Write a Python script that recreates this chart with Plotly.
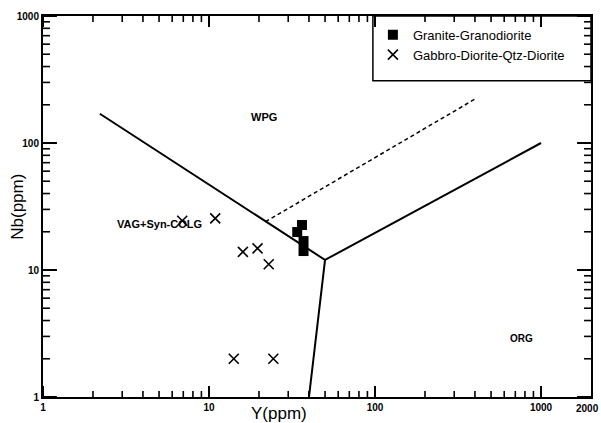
import math
import plotly.graph_objects as go

# Granite-Granodiorite samples
granite_y = [34.0, 36.3, 37.1, 37.1]
granite_nb = [19.9, 22.6, 16.9, 14.1]

# Gabbro-Diorite-Qtz-Diorite samples
gabbro_y = [6.9, 10.9, 16.0, 19.6, 22.9, 14.1, 24.4]
gabbro_nb = [24.4, 25.5, 13.9, 14.8, 11.1, 2.0, 2.0]

# Discrimination boundaries (Pearce et al. 1984)
bnd_y = [2.2, 50, 40, None, 50, 1000]
bnd_nb = [170, 12, 1, None, 12, 100]
dash_y = [21.9, 410]
dash_nb = [24.0, 226]

x_min, x_max = 1, 2000
y_min, y_max = 1, 1000
x_max_label = "2000"

FONT = "Liberation Sans, Arial, sans-serif"
TRANSP = "rgba(0,0,0,0)"

W, H = 601, 423
ML, MR, MT, MB = 43, 8, 16, 26
px_per_dec_x = (W - ML - MR) / math.log10(x_max / x_min)
px_per_dec_y = (H - MT - MB) / math.log10(y_max / y_min)

# tick marks (inside, on all four sides), built from the axis scales
x_major = [10 ** n for n in range(0, 4)]
x_minor = [k * 10 ** n for n in range(0, 4) for k in range(2, 10) if k * 10 ** n < x_max]
y_major = [10 ** n for n in range(0, 4)]
y_minor = [k * 10 ** n for n in range(0, 3) for k in range(2, 10)]


def x_tick_segments(vals, length):
    f = 10 ** (length / px_per_dec_y)
    xs, ys = [], []
    for v in vals:
        xs += [v, v, None, v, v, None]
        ys += [y_min, y_min * f, None, y_max, y_max / f, None]
    return xs, ys


def y_tick_segments(vals, length):
    f = 10 ** (length / px_per_dec_x)
    xs, ys = [], []
    for v in vals:
        xs += [x_min, x_min * f, None, x_max, x_max / f, None]
        ys += [v, v, None, v, v, None]
    return xs, ys


fig = go.Figure()
for (vals, length, width, fn) in [
    (x_major, 11, 2, x_tick_segments), (x_minor, 6, 1.6, x_tick_segments),
    (y_major, 14, 2, y_tick_segments), (y_minor, 7, 1.6, y_tick_segments),
]:
    tx, ty = fn(vals, length)
    fig.add_trace(go.Scatter(x=tx, y=ty, mode="lines", line=dict(color="black", width=width),
                             showlegend=False, hoverinfo="skip"))

fig.add_trace(go.Scatter(x=bnd_y, y=bnd_nb, mode="lines",
                         line=dict(color="black", width=2), showlegend=False, hoverinfo="skip"))
fig.add_trace(go.Scatter(x=dash_y, y=dash_nb, mode="lines",
                         line=dict(color="black", width=1.5, dash="4px,3px"), showlegend=False, hoverinfo="skip"))
fig.add_trace(go.Scatter(x=granite_y, y=granite_nb, mode="markers", name="Granite-Granodiorite",
                         marker=dict(symbol="square", size=10, color="black")))
fig.add_trace(go.Scatter(x=gabbro_y, y=gabbro_nb, mode="markers", name="Gabbro-Diorite-Qtz-Diorite",
                         marker=dict(symbol="x-thin", size=10, color="black",
                                     line=dict(color="black", width=1.6))))

common = dict(type="log", showgrid=False, zeroline=False, dtick=1,
              showline=True, linecolor="black", linewidth=2, mirror=True, ticks="",
              tickfont=dict(family=FONT, size=10, color="black", weight="bold"))

fig.update_layout(
    xaxis=dict(range=[math.log10(x_min), math.log10(x_max)], **common),
    yaxis=dict(range=[math.log10(y_min), math.log10(y_max)], **common),
)

fig.add_shape(type="rect", xref="paper", yref="paper", x0=0.602, x1=1, y0=0.830, y1=1,
              line=dict(color="black", width=1.5), fillcolor=TRANSP)

annots = [
    dict(text="<b>WPG</b>", x=0.404, y=0.755, size=11),
    dict(text="<b>VAG+Syn-COLG</b>", x=0.131, y=0.455, size=11),
    dict(text="<b>ORG</b>", x=0.898, y=0.135, size=10),
]
for a in annots:
    fig.add_annotation(text=a["text"], x=a["x"], y=a["y"], xref="paper", yref="paper",
                       showarrow=False, font=dict(family=FONT, size=a["size"], color="black"))
fig.add_annotation(text="<b>%s</b>" % x_max_label, x=0.993, y=-0.029, xref="paper", yref="paper",
                   showarrow=False, xanchor="center", yanchor="middle",
                   font=dict(family=FONT, size=10, color="black"))
fig.add_annotation(text="Y(ppm)", x=0.431, y=-0.042, xref="paper", yref="paper", showarrow=False,
                   yanchor="middle", font=dict(family=FONT, size=17, color="black"))
fig.add_annotation(text="Nb(ppm)", x=-0.047, y=0.5, xref="paper", yref="paper", showarrow=False,
                   textangle=-90, xanchor="center", yanchor="middle",
                   font=dict(family=FONT, size=17, color="black"))

fig.update_layout(
    width=W, height=H,
    margin=dict(l=ML, r=MR, t=MT, b=MB),
    plot_bgcolor="white", paper_bgcolor="white",
    showlegend=True,
    legend=dict(x=0.602, y=0.99, xanchor="left", yanchor="top",
                bgcolor=TRANSP, borderwidth=0,
                font=dict(family=FONT, size=13, color="black"),
                tracegroupgap=0, itemwidth=30),
)

fig.write_html("out.html")
